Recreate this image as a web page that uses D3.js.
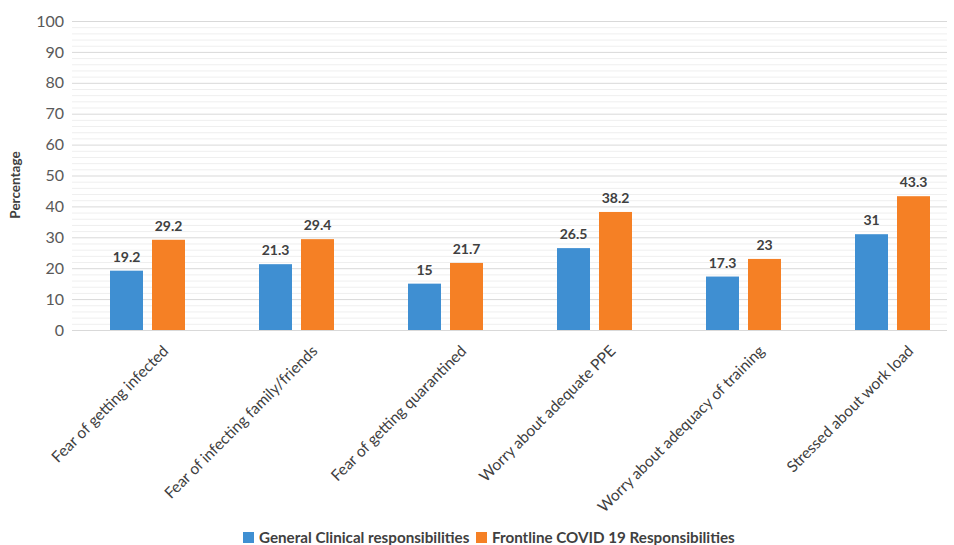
<!DOCTYPE html>
<html><head><meta charset="utf-8">
<script src="https://cdn.jsdelivr.net/npm/d3@7"></script>
<style>body{margin:0;background:#fff}svg{display:block}text{font-family:Lato,"Open Sans",sans-serif}</style>
</head><body><svg id="c" width="954" height="545"></svg>
<script>
const categories = ["Fear of getting infected","Fear of infecting family/friends","Fear of getting quarantined","Worry about adequate PPE","Worry about adequacy of training","Stressed about work load"];
const seriesNames = ["General Clinical responsibilities","Frontline COVID 19 Responsibilities"];
const general = [19.2,21.3,15,26.5,17.3,31];
const frontline = [29.2,29.4,21.7,38.2,23,43.3];
const yTicks = [0,10,20,30,40,50,60,70,80,90,100];
const colors = ["#3f8fd2","#f58025"];

const svg = d3.select("#c");
const m = {l:72, r:947, t:21, b:330};
const x0 = d3.scaleBand().domain(categories).range([73, 967]).paddingInner(0).paddingOuter(0);
const x1 = d3.scaleBand().domain(seriesNames).range([37, 112]).paddingInner(9/42).paddingOuter(0);
const y = d3.scaleLinear().domain([0,100]).range([m.b, m.t]);

// minor grid
const minor = d3.range(0,101,2).filter(v=>v%10!==0);
svg.append("g").selectAll("line").data(minor).join("line")
  .attr("x1",m.l).attr("x2",m.r).attr("y1",d=>y(d)+0.5).attr("y2",d=>y(d)+0.5)
  .attr("stroke","#efefef").attr("stroke-width",1);
// major grid
svg.append("g").selectAll("line").data(yTicks).join("line")
  .attr("x1",m.l).attr("x2",m.r).attr("y1",d=>y(d)+0.5).attr("y2",d=>y(d)+0.5)
  .attr("stroke","#d9d9d9").attr("stroke-width",1);

// y axis labels
const ya = svg.append("g").attr("transform",`translate(${m.l-8},0)`)
  .call(d3.axisLeft(y).tickValues(yTicks).tickSize(0).tickPadding(0));
ya.select(".domain").remove();
ya.selectAll("text").attr("font-size",16).attr("fill","#595959").style("font-family","Lato,'Open Sans',sans-serif");

svg.append("text").attr("transform","translate(20,185) rotate(-90)")
  .attr("text-anchor","middle").attr("font-size",13.5).attr("font-weight","bold").attr("fill","#404040").text("Percentage");

const data = categories.map((c,i)=>({c, vals:[{s:seriesNames[0],v:general[i]},{s:seriesNames[1],v:frontline[i]}]}));
const g = svg.append("g").selectAll("g").data(data).join("g").attr("transform",d=>`translate(${x0(d.c)},0)`);
g.selectAll("rect").data(d=>d.vals).join("rect")
  .attr("x",d=>x1(d.s)).attr("width",x1.bandwidth())
  .attr("y",d=>y(d.v)).attr("height",d=>y(0)-y(d.v))
  .attr("fill",(d,i)=>colors[i]);
g.selectAll("text.v").data(d=>d.vals).join("text").attr("class","v")
  .attr("x",d=>x1(d.s)+x1.bandwidth()/2).attr("y",d=>y(d.v)-9)
  .attr("text-anchor","middle").attr("font-size",14).attr("font-weight","bold").attr("fill","#404040")
  .text(d=>d.v);

// x axis labels
const xa = svg.append("g").attr("transform",`translate(0,${m.b})`)
  .call(d3.axisBottom(x0).tickSize(0).tickPadding(0));
xa.select(".domain").remove();
svg.append("line").attr("x1",m.l).attr("x2",m.r).attr("y1",m.b+0.5).attr("y2",m.b+0.5).attr("stroke","#d9d9d9");
xa.selectAll("text").attr("font-size",15.5).attr("fill","#404040")
  .style("font-family","Lato,'Open Sans',sans-serif")
  .attr("text-anchor","end").attr("dy",0)
  .attr("transform","translate(22,22) rotate(-45)");

// legend
const lg = svg.append("g");
const lx = [243, 476];
seriesNames.forEach((s,i)=>{
  lg.append("rect").attr("x",lx[i]).attr("y",532).attr("width",11).attr("height",11).attr("fill",colors[i]);
  lg.append("text").attr("x",lx[i]+16).attr("y",543).attr("font-size",15.2).attr("font-weight","bold").attr("fill","#404040").text(s);
});
</script></body></html>
